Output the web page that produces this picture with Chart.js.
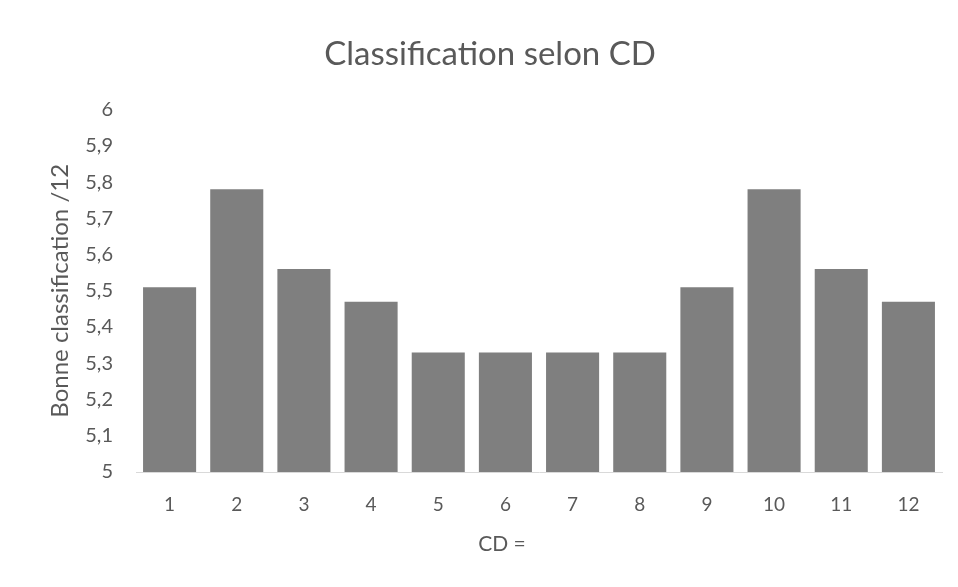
<!DOCTYPE html>
<html>
<head>
<meta charset="utf-8">
<script src="https://cdn.jsdelivr.net/npm/chart.js@4"></script>
<style>
  html, body { margin: 0; padding: 0; background: #ffffff; }
  #wrap { width: 958px; height: 587px; }
</style>
</head>
<body>
<div id="wrap"><canvas id="chart" width="958" height="587"></canvas></div>
<script>
// CD values on the horizontal axis
const categories = ['1', '2', '3', '4', '5', '6', '7', '8', '9', '10', '11', '12'];
// Correct classifications out of 12 for each CD
const classification = [5.51, 5.78, 5.56, 5.47, 5.33, 5.33, 5.33, 5.33, 5.51, 5.78, 5.56, 5.47];
// Vertical axis range and step
const yMin = 5;
const yMax = 6;
const yStep = 0.1;

const xAxisTitle = 'CD =';
const textColor = '#595959';
const fontFamily = 'Lato, "Open Sans", sans-serif';

// Horizontal axis title, centred under the whole chart rather than the plot area
const xTitlePlugin = {
  id: 'xTitle',
  afterDraw(chart) {
    const ctx = chart.ctx;
    const xScale = chart.scales.x;
    ctx.save();
    ctx.fillStyle = textColor;
    ctx.font = '21px ' + fontFamily;
    ctx.textAlign = 'center';
    ctx.textBaseline = 'middle';
    ctx.fillText(xAxisTitle, chart.width / 2 + 23, xScale.bottom - 43);
    ctx.restore();
  }
};

new Chart(document.getElementById('chart'), {
  type: 'bar',
  data: {
    labels: categories,
    datasets: [{
      data: classification,
      backgroundColor: '#7f7f7f',
      borderWidth: 0,
      categoryPercentage: 0.79,
      barPercentage: 1.0
    }]
  },
  plugins: [xTitlePlugin],
  options: {
    responsive: false,
    animation: false,
    devicePixelRatio: 1,
    layout: { padding: { left: 38, right: 16, top: 0, bottom: 0 } },
    plugins: {
      legend: { display: false },
      tooltip: { enabled: false },
      title: {
        display: true,
        text: 'Classification selon CD',
        color: textColor,
        font: { family: fontFamily, size: 33, weight: 'normal' },
        padding: { top: 35, bottom: 35 }
      }
    },
    scales: {
      x: {
        grid: { display: false },
        border: { display: true, color: '#d9d9d9', width: 1 },
        ticks: {
          color: textColor,
          font: { family: fontFamily, size: 19 },
          padding: 13
        },
        afterFit(scale) { scale.height = 115; }
      },
      y: {
        min: yMin,
        max: yMax,
        grid: { display: false },
        border: { display: false },
        ticks: {
          stepSize: yStep,
          color: textColor,
          font: { family: fontFamily, size: 20 },
          padding: 15,
          callback: (v) => {
            const r = Math.round(v * 10) / 10;
            return String(r).replace('.', ',');
          }
        },
        title: {
          display: true,
          text: 'Bonne classification /12',
          color: textColor,
          font: { family: fontFamily, size: 24 },
          padding: { top: 8, bottom: 0 }
        },
        afterFit(scale) { scale.width = 98; }
      }
    }
  }
});
</script>
</body>
</html>
